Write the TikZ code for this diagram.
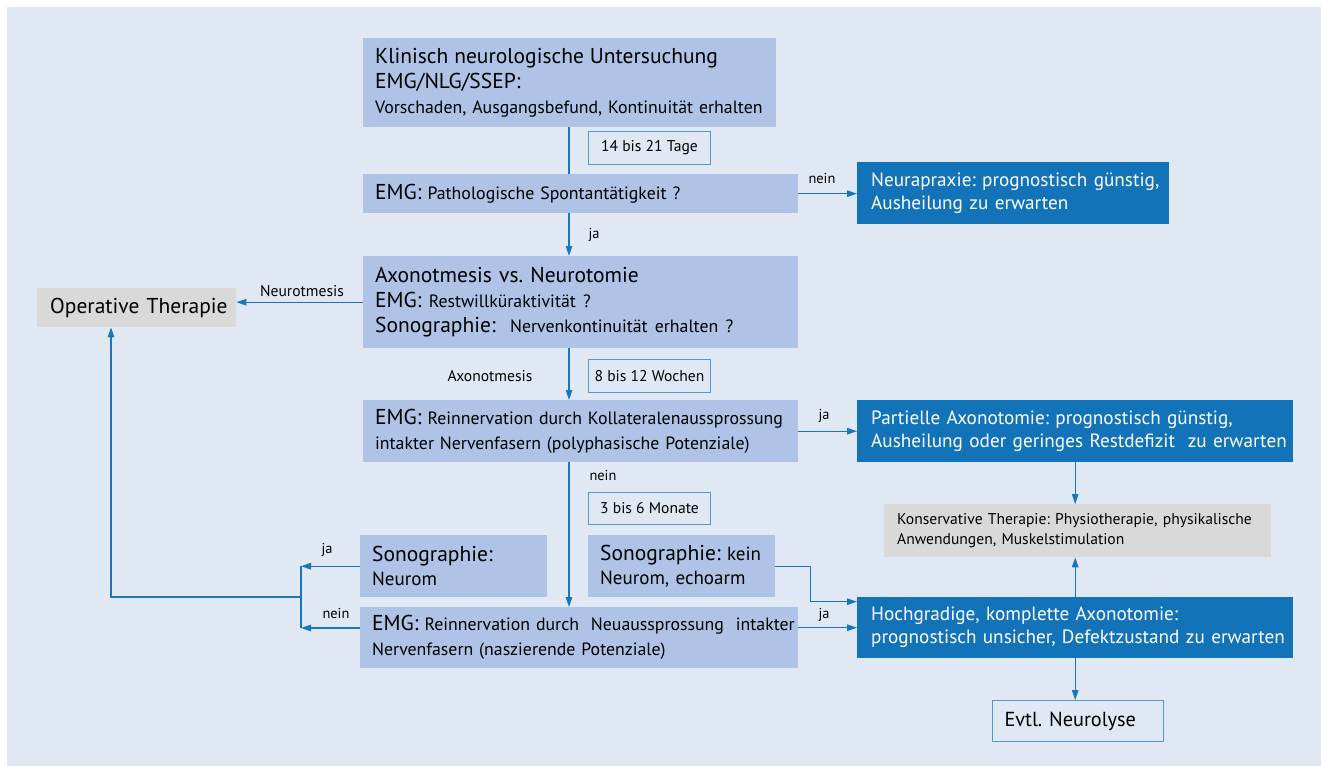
\documentclass[tikz,border=0pt]{standalone}
\usepackage{fontspec}
\setmainfont{PT Sans}
\usetikzlibrary{arrows.meta}
\definecolor{bgblue}{HTML}{DFE8F3}
\definecolor{lightbox}{HTML}{AEC3E6}
\definecolor{darkbox}{HTML}{1273B8}
\definecolor{greybox}{HTML}{D9D9D9}
\definecolor{linecol}{HTML}{1B75BB}
\newcommand{\fbig}{\fontsize{21.5}{25}\selectfont}
\newcommand{\fmid}{\fontsize{19.2}{23}\selectfont}
\newcommand{\fsmall}{\fontsize{17.8}{25}\selectfont}
\newcommand{\fsono}{\fontsize{19}{24}\selectfont}
\newcommand{\flab}{\fontsize{15.6}{20}\selectfont}
\newcommand{\ftiny}{\fontsize{14.4}{16}\selectfont}
\frenchspacing
\hyphenpenalty=10000
\exhyphenpenalty=10000

\begin{document}
\begin{tikzpicture}[x=1pt,y=-1pt,
		lbox/.style 2 args={fill=lightbox,anchor=north west,inner xsep=12pt,inner ysep=0pt,align=left,font=\fsmall,text width=#1,minimum height=#2},
		dbox/.style 2 args={fill=darkbox,text=white,font=\fmid,anchor=north west,inner xsep=14pt,inner ysep=0pt,align=left,text width=#1,minimum height=#2},
		gbox/.style 2 args={fill=greybox,anchor=north west,inner xsep=13pt,inner ysep=0pt,align=left,text width=#1,minimum height=#2},
		tbox/.style={draw=linecol!75,fill=bgblue,line width=1pt,anchor=north west,minimum width=122pt,minimum height=33pt,inner sep=0pt,font=\flab},
		lbl/.style={inner sep=0pt,font=\ftiny},
		conn/.style={draw=linecol,line width=1.3pt},
		arr/.style={conn,-{Triangle[length=10pt,width=6.5pt]}}]
	\useasboundingbox (0,0) rectangle (1321,765);
	\fill[bgblue] (7,7) rectangle (1330,775);

	% linke Spalte
	\node[lbox={389pt}{89pt}] (klin) at (363,38) {\fbig Klinisch neurologische Untersuchung\\ EMG/NLG/SSEP:\\ \fsmall Vorschaden,~Ausgangsbefund,~Kontinuität~erhalten};
	\node[lbox={411pt}{39pt}] (spont) at (363,174) {\fbig EMG: \fsmall Pathologische Spontantätigkeit ?};
	\node[lbox={411pt}{92pt},font=\fbig] (axo) at (363,256) {Axonotmesis vs. Neurotomie\\ EMG: {\fsmall Restwillküraktivität~?}\\ Sonographie:\ \ {\fsmall Nervenkontinuität~erhalten~?}};
	\node[lbox={411pt}{62pt}] (kollat) at (363,400) {{\fbig EMG:} Reinnervation~durch~Kollateralenaussprossung\\ intakter~Nervenfasern~(polyphasische~Potenziale)};
	\node[lbox={163pt}{62pt},font=\fsono] (sononeurom) at (360,535) {{\fbig Sonographie:}\\ Neurom};
	\node[lbox={163pt}{62pt},font=\fsono] (sonokein) at (588,535) {{\fbig Sonographie:}~kein\\ Neurom,~echoarm};
	\node[lbox={414pt}{61pt}] (neuaus) at (360,607) {{\fbig EMG:} Reinnervation~durch~~Neuaussprossung~~intakter\\ Nervenfasern~(naszierende~Potenziale)};
	\node[gbox={173pt}{39pt},font=\fbig] (optherapie) at (37,288) {Operative~Therapie};

	% Zeitangaben
	\node[tbox] (tage) at (588,131) {14 bis 21 Tage};
	\node[tbox] (wochen) at (588,359) {8 bis 12 Wochen};
	\node[tbox,minimum height=32pt] (monate) at (588,492) {3 bis 6 Monate};

	% rechte Spalte
	\node[dbox={284pt}{62pt}] (neurapraxie) at (857,162) {Neurapraxie:~prognostisch~günstig,\\ Ausheilung~zu~erwarten};
	\node[dbox={408pt}{62pt}] (partiell) at (857,400) {Partielle~Axonotomie:~prognostisch~günstig,\\ Ausheilung~oder~geringes~Restdefizit~~zu~erwarten};
	\node[gbox={361pt}{53pt},font=\flab] (konserv) at (884,504) {Konservative~Therapie:~Physiotherapie,~physikalische\\ Anwendungen,~Muskelstimulation};
	\node[dbox={408pt}{61pt}] (hochgr) at (857,597) {Hochgradige,~komplette~Axonotomie:\\ prognostisch~unsicher,~Defektzustand~zu~erwarten};
	\node[draw=linecol!75,fill=bgblue,line width=1pt,anchor=north west,inner xsep=12pt,inner ysep=0pt,text width=147pt,minimum height=41pt,align=left,font=\fontsize{20.3}{24}\selectfont] (neurolyse) at (992,700) {Evtl. Neurolyse};

	\coordinate (mainx) at (569,0);
	\coordinate (junc) at (301,597);
	\coordinate (leftx) at (111,0);
	\coordinate (neinpt) at (301,628);

	% Verbindungen
	\draw[conn] (klin.south -| mainx) -- (spont.north -| mainx);
	\draw[arr] (spont.south -| mainx) -- (axo.north -| mainx);
	\draw[arr] (spont.east) -- (spont.east -| neurapraxie.west);
	\draw[arr] (axo.west) -- (axo.west -| optherapie.east);
	\draw[arr] (axo.south -| mainx) -- (kollat.north -| mainx);
	\draw[arr] (kollat.east) -- (kollat.east -| partiell.west);
	\draw[arr] (kollat.south -| mainx) -- (neuaus.north -| mainx);
	\draw[arr] (partiell.south) -- (partiell.south |- konserv.north);
	\draw[arr] (hochgr.north) -- (hochgr.north |- konserv.south);
	\draw[arr] (hochgr.south) -- (hochgr.south |- neurolyse.north);
	\draw[arr] (sonokein.east) -- ++(35,0) |- ([yshift=26pt]hochgr.west);
	\draw[arr] (hochgr.west -| neuaus.east) -- (hochgr.west);
	\draw[arr] (sononeurom.west) -- (sononeurom.west -| junc);
	\draw[arr] (neuaus.west |- neinpt) -- (neinpt);
	\draw[conn] (junc |- sononeurom.west) -- (neinpt);
	\draw[arr] (junc) -| (optherapie.south -| leftx);

	% Beschriftungen
	\node[lbl] (nein1) at (822,178) {nein};
	\node[lbl] (ja1) at (594,235) {ja};
	\node[lbl,font=\flab] (neurotm) at (302,291) {Neurotmesis};
	\node[lbl,font=\flab] (axonotm) at (490,376) {Axonotmesis};
	\node[lbl] (ja2) at (824,416) {ja};
	\node[lbl] (nein2) at (603,475) {nein};
	\node[lbl] (ja3) at (824,615) {ja};
	\node[lbl] (ja4) at (327,550) {ja};
	\node[lbl] (nein3) at (336,613) {nein};
\end{tikzpicture}
\end{document}
